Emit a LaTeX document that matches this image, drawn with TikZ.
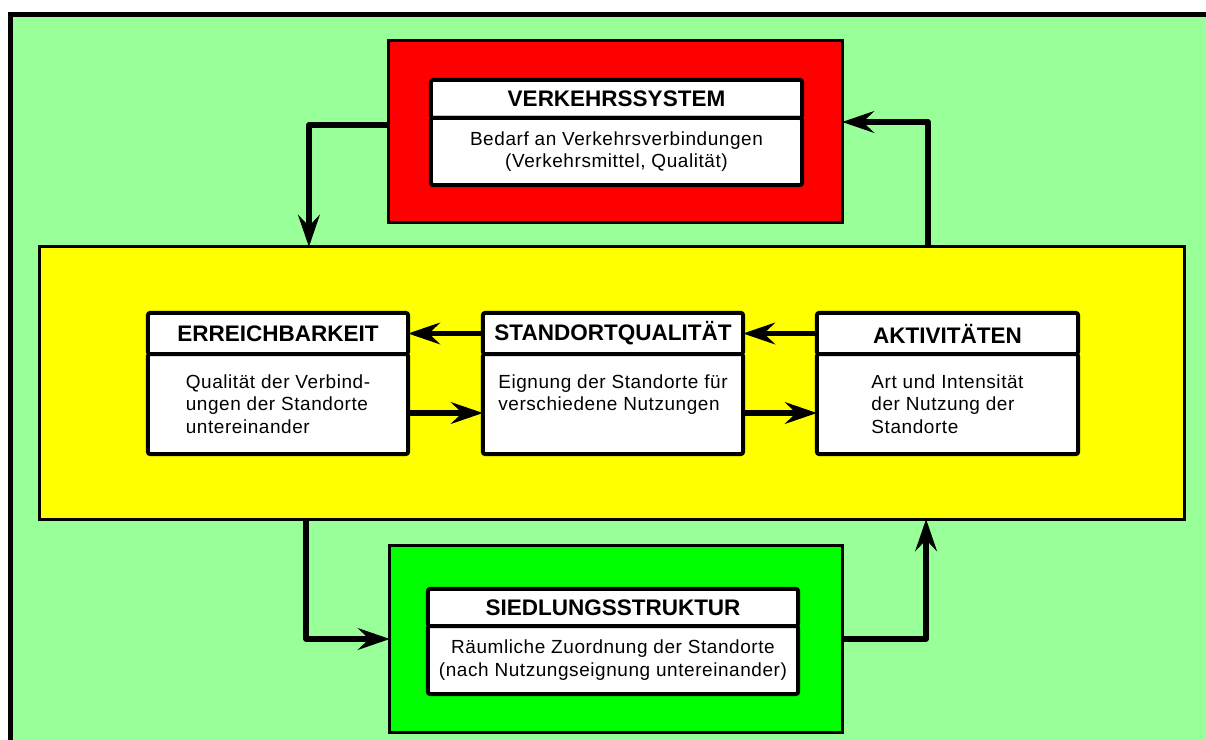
\documentclass[tikz,border=0pt]{standalone}
\usepackage{fontspec}
\setmainfont{Liberation Sans}
\newfontfamily\boxfont[LetterSpace=3]{Liberation Sans}
\usetikzlibrary{arrows.meta,positioning}
\definecolor{bggreen}{RGB}{153,255,153}
\definecolor{zred}{RGB}{255,0,0}
\definecolor{zyellow}{RGB}{255,255,0}
\definecolor{zgreen}{RGB}{0,255,0}
\tikzset{
  zone/.style = {draw, line width=0.075cm, outer sep=0pt, inner sep=0pt},
  head/.style = {draw, fill=white, line width=0.1cm, rounded corners=1.5pt,
                 outer sep=0pt, inner sep=0pt, font=\fontsize{16}{19}\selectfont\bfseries},
  body/.style = {draw, fill=white, line width=0.1cm, rounded corners=1.5pt,
                 outer sep=0pt, inner sep=0pt, align=center,
                 font=\boxfont\fontsize{13.5}{16}\selectfont},
  e/.style    = {-{Stealth[length=8mm,width=5.4mm,inset=2.8mm]}, line width=0.14cm,
                 line join=round}
}

\begin{document}
\begin{tikzpicture}[x=0.025cm,y=-0.025cm]
  \clip (0,0) rectangle (1206,740);
  \draw[line width=0.125cm, fill=bggreen] (10.5,14.5) rectangle (1240,760);
  % zones
  \node[zone, fill=zred, minimum width=11.325cm, minimum height=4.525cm] (verk) at (615.5,131.5) {};
  \node[zone, fill=zyellow, minimum width=28.6cm, minimum height=6.8cm] (mitte) at (612,383) {};
  \node[zone, fill=zgreen, minimum width=11.3cm, minimum height=4.65cm] (sied) at (616,639) {};
  % boxes
  \node[head, minimum width=9.275cm, minimum height=0.95cm] (verkT) at (616.5,99) {VERKEHRSSYSTEM};
  \node[body, minimum width=9.275cm, minimum height=1.675cm, below=0pt of verkT] (verkB)
    {Bedarf an Verkehrsverbindungen\\(Verkehrsmittel, Qualität)};
  \node[head, minimum width=6.5cm, minimum height=1.025cm] (erreT) at (278,333.5) {ERREICHBARKEIT};
  \node[body, minimum width=6.5cm, minimum height=2.5cm, align=left, below=0pt of erreT] (erreB)
    {Qualität der Verbind-\\ungen der Standorte\\untereinander};
  \node[head, minimum width=6.5cm, minimum height=1.025cm] (standT) at (613,333.5) {STANDORTQUALITÄT};
  \node[body, minimum width=6.5cm, minimum height=2.5cm, align=left, below=0pt of standT] (standB)
    {Eignung der Standorte für\\verschiedene Nutzungen\\\mbox{}};
  \node[head, minimum width=6.525cm, minimum height=1.025cm] (aktivT) at (947.5,333.5) {AKTIVITÄTEN};
  \node[body, minimum width=6.525cm, minimum height=2.5cm, align=left, below=0pt of aktivT] (aktivB)
    {Art und Intensität\\der Nutzung der\\Standorte};
  \node[head, minimum width=9.25cm, minimum height=0.925cm] (siedT) at (613,607.5) {SIEDLUNGSSTRUKTUR};
  \node[body, minimum width=9.25cm, minimum height=1.7cm, below=0pt of siedT] (siedB)
    {Räumliche Zuordnung der Standorte\\(nach Nutzungseignung untereinander)};
  % arrows
  \draw[e] ([yshift=0.1625cm]verk.west) -| ([xshift=-7.575cm]mitte.north);
  \draw[e] ([xshift=7.9cm]mitte.north) |- ([yshift=0.2375cm]verk.east);
  \draw[e] ([xshift=-7.65cm]mitte.south) |- (sied.west);
  \draw[e] (sied.east) -| ([xshift=7.85cm]mitte.south);
  \draw[e] (standT.west) -- (erreT.east);
  \draw[e] (aktivT.west) -- (standT.east);
  \draw[e] ([yshift=-0.225cm]erreB.east) -- ([yshift=-0.225cm]standB.west);
  \draw[e] ([yshift=-0.225cm]standB.east) -- ([yshift=-0.225cm]aktivB.west);
\end{tikzpicture}
\end{document}
